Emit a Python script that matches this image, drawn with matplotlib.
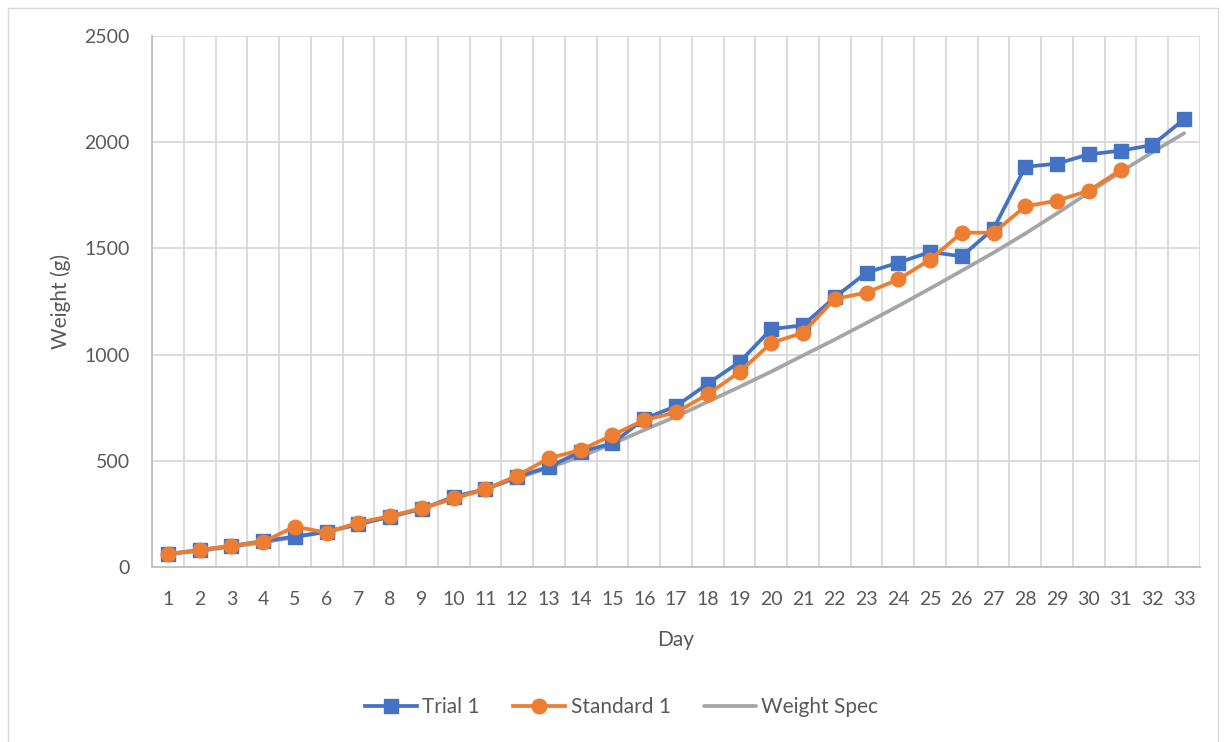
import matplotlib
matplotlib.use("Agg")
import matplotlib.pyplot as plt
from matplotlib.patches import Rectangle
from matplotlib.ticker import MultipleLocator

days = list(range(1, 34))

trial_1 = [61, 80, 99, 122, 143, 166, 202, 237, 273, 331, 366, 425, 472, 543,
           582, 698, 757, 863, 965, 1120, 1138, 1270, 1386, 1433, 1483, 1463,
           1593, 1884, 1899, 1943, 1960, 1987, 2108]

standard_1 = [61, 80, 100, 119, 190, 162, 209, 240, 276, 323, 366, 430, 512,
              551, 621, 692, 728, 813, 918, 1055, 1103, 1262, 1292, 1354,
              1447, 1574, 1574, 1698, 1725, 1772, 1869]

weight_spec = [60, 76, 95, 116, 140, 166, 200, 238, 276, 322, 368, 418, 468,
               520, 580, 645, 708, 778, 848, 920, 996, 1071, 1149, 1229, 1311,
               1395, 1480, 1570, 1665, 1763, 1860, 1953, 2042]

y_ticks = [0, 500, 1000, 1500, 2000, 2500]

BLUE = "#4472C4"
ORANGE = "#ED7D31"
GRAY = "#A5A5A5"
GRID = "#D9D9D9"
TEXT = "#595959"

plt.rcParams["font.family"] = ["Lato", "DejaVu Sans"]

fig = plt.figure(figsize=(12.26, 7.42), dpi=100)
ax = fig.add_axes([152 / 1226, 1 - 567 / 742, (1200 - 152) / 1226, (567 - 36) / 742])

# chart area frame
fig.patches.append(Rectangle((8 / 1226, -0.01), (1218 - 8) / 1226, 1 - 8 / 742 + 0.01,
                             transform=fig.transFigure, fill=False,
                             edgecolor=GRID, linewidth=1.0))

ax.plot(days, weight_spec, color=GRAY, linewidth=2.7, label="Weight Spec",
        solid_capstyle="round", solid_joinstyle="round", zorder=2)
ax.plot(days[:len(standard_1)], standard_1, color=ORANGE, linewidth=2.7,
        marker="o", markersize=10.5, label="Standard 1", zorder=3)
ax.plot(days, trial_1, color=BLUE, linewidth=2.7, marker="s", markersize=9.5,
        label="Trial 1", zorder=2.5)

ax.set_xlim(0.5, len(days) + 0.5)
ax.set_ylim(0, 2500)
ax.set_yticks(y_ticks)
ax.set_xticks(days)
ax.set_xticklabels([str(d) for d in days])
ax.xaxis.set_minor_locator(MultipleLocator(1, offset=0.5))

ax.grid(True, which="minor", axis="x", color=GRID, linewidth=1.3)
ax.grid(True, which="major", axis="y", color=GRID, linewidth=1.3)
ax.set_axisbelow(True)

for side in ("top", "right"):
    ax.spines[side].set_visible(False)
for side in ("left", "bottom"):
    ax.spines[side].set_color("#BFBFBF")
    ax.spines[side].set_linewidth(1.3)

ax.tick_params(axis="both", which="both", length=0, labelsize=14,
               labelcolor=TEXT)
ax.tick_params(axis="x", pad=17)
ax.tick_params(axis="y", pad=16)

ax.set_xlabel("Day", fontsize=15, color=TEXT, labelpad=16)
ax.set_ylabel("Weight (g)", fontsize=15, color=TEXT, labelpad=10)

handles, labels = ax.get_legend_handles_labels()
order = [2, 1, 0]
fig.legend([handles[i] for i in order], [labels[i] for i in order],
           loc="center", bbox_to_anchor=(0.507, 1 - 707 / 742), ncol=3,
           frameon=False, fontsize=15, labelcolor=TEXT, handlelength=2.5,
           columnspacing=1.6, handletextpad=0.25)

fig.savefig("out.png", dpi=100)
